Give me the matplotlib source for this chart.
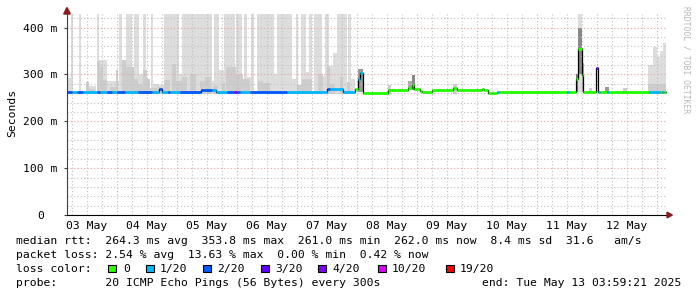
import matplotlib.pyplot as plt
from matplotlib.patches import Rectangle, Polygon

W, H = 697, 297

# hours from start (May 3 ~04:00), 10 days shown
# --- smoke: light gray spans reaching the top of the chart
full_t0 = [1.5, 4.7, 11.9, 20.7, 23.7, 26.8, 30.3, 33.7, 38.8, 46.0, 58.8, 62.8, 67.6,
           70.9, 73.5, 75.9, 84.0, 91.7, 93.5, 96.7, 98.8, 103.1, 108.1, 112.4]
full_t1 = [2.4, 5.7, 12.7, 22.1, 26.0, 28.7, 31.5, 34.5, 44.8, 58.0, 60.8, 67.2, 70.0,
           72.0, 74.8, 82.8, 90.1, 92.4, 95.5, 98.1, 102.1, 104.8, 111.9, 113.7]

# --- smoke: light gray partial spans (start, end, top ms)
light_t0 = [0.0, 7.6, 12.7, 16.0, 22.1, 28.7, 34.5, 36.8, 44.8, 58.0, 60.8, 72.0,
            82.8, 90.1, 95.5, 102.1, 104.8, 106.4, 113.7, 232.4, 234.4, 236.0, 237.2, 238.4]
light_t1 = [1.5, 11.6, 16.0, 20.7, 23.7, 30.3, 36.8, 38.8, 46.0, 58.8, 62.8, 73.5,
            84.0, 91.7, 96.7, 103.1, 106.4, 108.1, 115.2, 234.4, 236.0, 237.2, 238.4, 239.6]
light_top = [292, 276, 330, 285, 320, 300, 280, 278, 300, 285, 310, 295,
             300, 290, 305, 296, 318, 345, 290, 320, 358, 337, 351, 367]

# --- smoke: darker gray spans (start, end, top ms)
mid_t0 = [7.6, 8.8, 12.0, 13.2, 14.4, 17.2, 19.6, 22.0, 23.6, 24.8, 26.8, 28.4, 30.4,
          32.0, 33.2, 36.0, 38.8, 42.0, 43.6, 46.0, 49.2, 53.2, 55.2, 58.4, 62.0, 63.6,
          67.6, 70.4, 76.4, 78.4, 92.0, 94.0, 100.4, 104.0, 105.2, 109.2, 112.0,
          128.4, 154.4, 208.8, 222.4, 232.4]
mid_t1 = [8.8, 11.2, 13.2, 14.4, 16.0, 19.6, 20.4, 23.6, 24.8, 26.8, 28.4, 30.4, 32.0,
          33.2, 36.0, 37.6, 41.2, 43.6, 46.0, 48.0, 51.6, 55.2, 57.6, 60.4, 63.2, 67.6,
          70.4, 73.2, 78.4, 81.2, 94.0, 98.0, 102.4, 105.2, 107.2, 110.4, 113.2,
          129.6, 156.0, 210.0, 224.0, 239.6]
mid_top = [283, 268, 328, 315, 288, 273, 310, 330, 316, 315, 290, 280, 310,
           290, 272, 273, 289, 322, 285, 295, 302, 285, 295, 275, 282, 315,
           300, 290, 287, 282, 277, 290, 300, 318, 280, 295, 283,
           277, 280, 270, 272, 280]

# --- smoke: dark gray around the bigger spikes (start, end, bottom, top ms)
dark_t0 = [116.4, 136.4, 138.0, 203.6, 204.4, 204.4, 206.0, 215.2]
dark_t1 = [118.4, 138.0, 139.2, 204.4, 206.0, 206.0, 206.8, 216.8]
dark_bot = [262, 266, 266, 262, 262, 300, 262, 262]
dark_top = [312, 285, 298, 300, 429, 400, 325, 274]
dark_col = ['#999999', '#aaaaaa', '#888888', '#777777', '#dddddd', '#888888', '#aaaaaa', '#999999']

# --- median rtt (segment boundaries, value ms, loss level index)
med_t = [0, 2.0, 4.0, 6.4, 12.0, 13.2, 16.0, 18.0, 20.0, 23.2, 28.4, 34.0, 36.8, 38.0,
         40.4, 41.2, 45.2, 53.6, 58.0, 59.6, 64.0, 66.8, 68.0, 69.2, 73.2, 88.0, 104.0,
         105.2, 110.4, 115.2, 116.4, 117.2, 118.4, 128.4, 136.4, 138.0, 138.8, 141.2,
         142.0, 146.0, 154.4, 156.0, 166.0, 166.8, 168.4, 170.0, 172.0, 172.8, 200.0,
         200.8, 203.6, 204.4, 206.0, 206.4, 211.6, 212.4, 213.2, 216.0, 216.8, 232.8,
         237.2, 238.0, 238.8, 239.6]
med_v = [263, 263, 263, 263, 263, 263, 263, 263, 263, 263, 263, 263, 269,
         263, 263, 263, 263, 267, 266, 263, 263, 263, 263, 263, 263, 263,
         268, 268, 263, 268, 290, 303, 261, 266, 270, 277, 268,
         265, 262, 266, 271, 266, 268, 266, 261, 260, 262, 262,
         262, 262, 291, 354, 298, 262, 314, 262, 262, 262, 262,
         263, 263, 263, 263]
med_loss = [2, 1, 2, 1, 2, 1, 2, 1, 2, 1, 2, 1, 2,
            1, 2, 1, 2, 2, 1, 1, 2, 4, 2, 1, 2, 1,
            2, 1, 1, 0, 1, 1, 0, 0, 0, 0, 0,
            0, 0, 0, 0, 0, 0, 0, 0, 0, 1, 0,
            1, 0, 0, 0, 0, 0, 3, 1, 0, 1, 0,
            1, 0, 1, 0]

loss_labels = ['0', '1/20', '2/20', '3/20', '4/20', '10/20', '19/20']
loss_colors = ['#26ff00', '#00b8ff', '#0059ff', '#5e00ff', '#7e00ff', '#dd00ff', '#ff0000']

day_labels = ['03 May', '04 May', '05 May', '06 May', '07 May',
              '08 May', '09 May', '10 May', '11 May', '12 May']

y_top = 429

fig = plt.figure(figsize=(W / 100, H / 100), dpi=100)
fig.patch.set_facecolor('white')
ax = fig.add_axes([67 / W, (H - 215) / H, 600 / W, 201 / H])
ax.set_xlim(0, 240)
ax.set_ylim(0, y_top)

base = 258
ax.bar(full_t0, [y_top - base] * len(full_t0), bottom=base,
       width=[b - a for a, b in zip(full_t0, full_t1)], align='edge',
       color='#dddddd', linewidth=0, zorder=1)
ax.bar(light_t0, [t - base for t in light_top], bottom=base,
       width=[b - a for a, b in zip(light_t0, light_t1)], align='edge',
       color='#dddddd', linewidth=0, zorder=1)
ax.bar(mid_t0, [t - base for t in mid_top], bottom=base,
       width=[b - a for a, b in zip(mid_t0, mid_t1)], align='edge',
       color='#cdcdcd', linewidth=0, zorder=1.5)
ax.bar(dark_t0, [t - b for t, b in zip(dark_top, dark_bot)], bottom=dark_bot,
       width=[b - a for a, b in zip(dark_t0, dark_t1)], align='edge',
       color=dark_col, linewidth=0, zorder=1.6)

# grid
for h in range(2, 240, 6):
    if (h - 20) % 24 == 0:
        ax.axvline(h, color='#f0a0a0', lw=0.8, ls=(0, (1, 2)), zorder=2)
    else:
        ax.axvline(h, color='#c0c0c0', lw=0.8, ls=(0, (1, 2)), zorder=2)
for v in range(20, y_top, 20):
    if v % 100 == 0:
        ax.axhline(v, color='#f0a0a0', lw=0.8, ls=(0, (1, 2)), zorder=2)
    else:
        ax.axhline(v, color='#c0c0c0', lw=0.8, ls=(0, (1, 2)), zorder=2)

# median: black step line, then loss-coloured segments
xs, ys = [], []
for i, v in enumerate(med_v):
    xs += [med_t[i], med_t[i + 1]]
    ys += [v, v]
ax.plot(xs, ys, color='black', lw=0.9, zorder=3)
ax.hlines(med_v, med_t[:-1], med_t[1:], colors=[loss_colors[k] for k in med_loss],
          lw=2.0, zorder=4)

for s in ['top', 'right']:
    ax.spines[s].set_visible(False)
ax.spines['left'].set_color('#404040')
ax.spines['bottom'].set_color('black')
ax.spines['left'].set_zorder(5)
ax.spines['bottom'].set_zorder(5)

mono = 'DejaVu Sans Mono'
fs = 8.2
ax.set_yticks([0, 100, 200, 300, 400])
ax.set_yticklabels(['0', '100 m', '200 m', '300 m', '400 m'], family=mono, fontsize=fs)
ax.set_xticks([8 + 24 * i for i in range(10)])
ax.set_xticklabels(day_labels, family=mono, fontsize=fs)
ax.tick_params(axis='y', length=2, pad=5, color='#404040')
ax.tick_params(axis='x', length=0, pad=4)
ax.get_yticklabels()[0].set_x(-0.022)

# axis arrows
ax.add_patch(Polygon([[-0.0055, 1.0], [0.0055, 1.0], [0, 1.032]], closed=True,
                     transform=ax.transAxes, color='#8b1a1a', clip_on=False, zorder=6))
ax.add_patch(Polygon([[1.0, -0.014], [1.0, 0.014], [1.009, 0]], closed=True,
                     transform=ax.transAxes, color='#8b1a1a', clip_on=False, zorder=6))

fig.text(12 / W, 1 - 113 / H, 'Seconds', rotation=90, ha='center', va='center',
         family=mono, fontsize=fs)
fig.text(686 / W, 1 - 60 / H, 'RRDTOOL / TOBI OETIKER', rotation=270, ha='center',
         va='center', family=mono, fontsize=5.8, color='#b8b8b8')


def ftext(x, y, s, **kw):
    fig.text(x / W, 1 - y / H, s, va='center', family=mono, fontsize=fs, **kw)


ftext(16, 241, 'median rtt:  264.3 ms avg  353.8 ms max  261.0 ms min  '
               '262.0 ms now  8.4 ms sd  31.6   am/s')
ftext(16, 255.5, 'packet loss: 2.54 % avg  13.63 % max  0.00 % min  0.42 % now')
ftext(16, 269, 'loss color:')
box_x = [108, 146, 203, 261, 318, 378, 446]
lab_x = [123, 160, 217, 275, 332, 392, 460]
for bx, lx, lab, col in zip(box_x, lab_x, loss_labels, loss_colors):
    fig.add_artist(Rectangle((bx / W, 1 - 272 / H), 7.5 / W, 7.5 / H,
                             transform=fig.transFigure, facecolor=col,
                             edgecolor='black', lw=0.8))
    ftext(lx, 269, lab)
ftext(16, 283.5, 'probe:       20 ICMP Echo Pings (56 Bytes) every 300s')
ftext(681, 283.5, 'end: Tue May 13 03:59:21 2025', ha='right')

fig.savefig('out.png', dpi=100)
